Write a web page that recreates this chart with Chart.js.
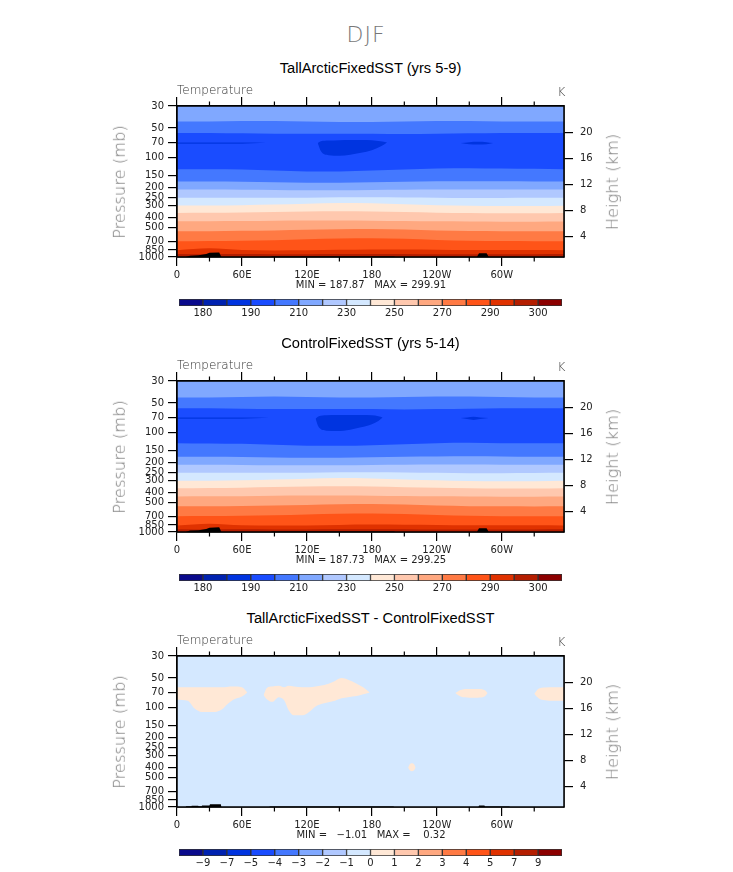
<!DOCTYPE html>
<html><head><meta charset="utf-8">
<script src="https://cdn.jsdelivr.net/npm/chart.js@4.4.1/dist/chart.umd.min.js"></script>
<style>
html,body{margin:0;padding:0;background:#fff;}
body{width:733px;height:872px;position:relative;overflow:hidden;font-family:"DejaVu Sans",sans-serif;}
canvas{position:absolute;}
.t{position:absolute;white-space:pre;transform:translate(-50%,-50%);line-height:1;}
.tl{position:absolute;white-space:pre;transform:translate(0,-50%);line-height:1;}
.main{font-size:22px;font-weight:200;color:#777;letter-spacing:1px}
.ttl{font-family:"Liberation Sans",Arial,sans-serif;font-size:14.7px;color:#000}
.lbl{font-size:12px;font-weight:300;color:#333}
.ax{font-size:16.3px;font-weight:200;color:#777;}
.mm{font-size:10px;color:#222}
</style></head><body>
<script>
// ---------------- data ----------------
const LONS = [0,30,60,90,120,150,180,210,240,270,300,330,357.5];
const LON_TICKS = [0,60,120,180,240,300];
const LON_LABELS = ['0','60E','120E','180','120W','60W'];
const LON_MINOR = [30,90,150,210,270,330];
const P_TICKS = [30,50,70,100,150,200,250,300,400,500,700,850,1000];
const H_TICKS = [4,8,12,16,20];

const COLORS = ['#0a0a8c','#0022b0','#0034e0','#1a4cff','#4478ff','#80a8ff','#b0c8ff','#d4e8ff',
                '#ffe8d6','#ffc8ae','#ffa880','#ff7a44','#ff5418','#e03200','#b41e00','#8c0000'];
const T_LEVELS = [180,185,190,200,210,220,230,240,250,260,270,280,290,295,300];
const T_LABELED = [180,190,210,230,250,270,290,300];
const D_LEVELS = [-9,-7,-5,-4,-3,-2,-1,0,1,2,3,4,5,7,9];
const D_LABELED = [-9,-7,-5,-4,-3,-2,-1,0,1,2,3,4,5,7,9];

// Panel 1: TallArcticFixedSST (yrs 5-9) — contour pressures (mb) along LONS
const A_C210_UP = [43,43,42.5,42.5,43,43.5,43.5,43,42.5,42.5,43,43,43];
const A_C200_UP = [56,56,56.5,57,57,57,57,57.5,57,56.5,56,56,56];
const A_C200_LO = [130,130,131,134,137,137,134,131,128,127,128,129,130];
const A_C210_LO = [173,173,174,176,178,178,176,174,172,172,172,173,173];
const A_C220 = [209,209,210,211,212,212,211,210,209,209,209,209,209];
const A_C230 = [252,252,252,252,252,250,250,251,252,254,254,253,252];
const A_C240 = [303,302,300,296,290,285,287,294,300,304,306,306,304];
const A_C250 = [360,358,356,352,348,346,348,352,357,361,363,363,361];
const A_C260 = [437,436,434,430,428,428,430,433,436,438,440,440,438];
const A_C270 = [550,549,545,540,532,524,522,528,540,548,550,551,550];
const A_C280 = [692,688,684,676,664,652,648,656,672,685,690,692,692];
const A_C290 = [855,818,850,858,855,845,838,840,845,850,852,852,855];
const A_C295 = [935,940,935,940,938,935,932,935,940,940,938,938,935];
const A_COLD_LONS = [130,133,140,150,160,170,180,188,194];
const A_COLD_TOP = [71,68,67,66.5,66,66,66.5,68,70];
const A_COLD_BOT = [71,86,94,95,93,89,84,77,70];
const A_SLIV1_LONS = [0,20,40,60,82];
const A_SLIV1_TOP = [70,70,70,70,70.5];
const A_SLIV1_BOT = [72,72,72,72,70.5];
const A_SLIV2_LONS = [262,270,278,286,292];
const A_SLIV2_TOP = [71,69.5,69,69.5,71];
const A_SLIV2_BOT = [71,73,73.5,73,71];
const A_TOPO_LONS = [0,8,12,20,27,30,39,41,86,88,200,202,277,279,286,288,357.5];
const A_TOPO_PS   = [1000,1000,972,960,935,905,900,1000,1000,988,988,1000,1000,915,915,1000,1000];

// Panel 2: ControlFixedSST (yrs 5-14)
const B_C210_UP = [44,44,43.5,43,43.5,44,44,43.5,43,43,43.5,44,44];
const B_C200_UP = [56.5,56.5,57,57.5,57.5,57.5,57.5,58,57.5,57,56.5,56.5,56.5];
const B_C200_LO = [127,128,129,132,135,135,133,130,127,126,127,127,127];
const B_C210_LO = [174,174,175,177,178,178,176,174,173,172,173,174,174];
const B_C220 = [210,210,211,212,212,212,211,210,209,209,210,210,210];
const B_C230 = [253,253,253,253,252,250,250,251,253,255,255,254,253];
const B_C240 = [305,304,301,296,290,286,288,295,301,306,308,307,305];
const B_C250 = [362,360,357,352,348,346,348,353,358,362,364,364,362];
const B_C260 = [438,437,435,431,428,428,430,434,437,439,441,441,439];
const B_C270 = [551,550,546,541,533,525,523,529,541,549,551,552,551];
const B_C280 = [694,690,686,678,666,654,650,658,674,687,692,694,694];
const B_C290 = [860,825,855,862,858,848,842,845,850,855,856,856,860];
const B_C295 = [940,945,940,945,942,940,936,940,945,945,942,942,940];
const B_COLD_LONS = [128,131,138,148,160,170,180,186,190];
const B_COLD_TOP = [72,68,66.5,66,66,66,66.5,68,70];
const B_COLD_BOT = [72,88,95,96,93,88,82,76,70];
const B_SLIV1_LONS = [0,20,40,60,85];
const B_SLIV1_TOP = [70,70,70,70,70.5];
const B_SLIV1_BOT = [72,72,72,72,70.5];
const B_SLIV2_LONS = [262,268,274,280,288];
const B_SLIV2_TOP = [71,70,69,70,71];
const B_SLIV2_BOT = [71,72.5,74,72.5,71];
const B_TOPO_LONS = [0,8,12,20,27,30,39,41,86,88,200,202,277,279,286,288,357.5];
const B_TOPO_PS   = [1000,1000,968,958,935,905,898,1000,1000,988,988,1000,1000,915,915,1000,1000];

// Panel 3: difference — regions between 0 and 1 K
const D_P1_LONS = [0,10,16,23,35,42,46,52,60,65];
const D_P1_TOP  = [62,62,62,62,62,62,61.5,61,62,70];
const D_P1_BOT  = [83,85,101,110,110,103,93,83,77,70];
const D_P2_LONS = [80,83,88,94,99,103,108,116,122,128,136,144,152,158,166,172,178];
const D_P2_TOP  = [74,63,61,60,62,60,61,62,62,61,59,55,50,52,57,62,70];
const D_P2_BOT  = [74,82,87,78,84,105,119,119,110,97,90,86,80,78,76,73,70];
const D_P3_LONS = [257,262,270,278,284,287];
const D_P3_TOP  = [71,66,64.5,64.5,66,71];
const D_P3_BOT  = [71,77,79,79,77,71];
const D_P4_LONS = [330,334,340,348,357.5];
const D_P4_TOP  = [72,64,62.5,62,62];
const D_P4_BOT  = [72,80,84,85,85];
const D_P5_LONS = [213.5,215,217,219,220.5];
const D_P5_TOP  = [400,370,362,370,400];
const D_P5_BOT  = [400,425,435,425,400];
const D_TOPO_LONS = [0,8,8.5,13,13.5,19.5,20,22.5,23,30,30.5,40.5,41,85,85.5,200,200.5,278.5,279,284,284.5,307,307.5,357.5];
const D_TOPO_PS   = [1000,1000,985,985,972,972,985,985,965,965,940,940,1000,1000,987,987,1000,1000,965,965,988,988,1000,1000];

// ---------------- helpers ----------------
function bandColor(levels, lo){ return COLORS[levels.indexOf(lo)+1]; }
function pts(lons, ps){ return lons.map((x,i)=>({x:x, y:ps[i]})); }
function mk(data, fill, color, smooth){
  return {data, fill, backgroundColor:color, borderColor:'rgba(0,0,0,0)', borderWidth:0,
    pointRadius:0, pointHoverRadius:0, xAxisID:'x', yAxisID:'y',
    tension: smooth ? 0.4 : 0, cubicInterpolationMode: smooth ? 'monotone' : 'default'};
}
function buildDatasets(layers, levels){
  const ds = [];
  layers.forEach(L=>{
    const color = L.black ? '#000' : bandColor(levels, L.band);
    const smooth = !L.black;
    if (L.top){
      const ti = ds.length;
      ds.push(mk(pts(L.lons, L.top), false, color, smooth));
      ds.push(mk(pts(L.lons, L.bot), ti, color, smooth));
    } else {
      ds.push(mk(pts(L.lons, L.ps), 'start', color, smooth));
    }
  });
  const n = ds.length; ds.forEach((d,i)=>{ d.order = n - i; });
  return ds;
}
function tempLayers(c){
  return [
    {lons:LONS, ps:c.c210u, band:200},
    {lons:LONS, ps:c.c200u, band:190},
    {lons:LONS, ps:c.c200l, band:200},
    {lons:LONS, ps:c.c210l, band:210},
    {lons:LONS, ps:c.c220, band:220},
    {lons:LONS, ps:c.c230, band:230},
    {lons:LONS, ps:c.c240, band:240},
    {lons:LONS, ps:c.c250, band:250},
    {lons:LONS, ps:c.c260, band:260},
    {lons:LONS, ps:c.c270, band:270},
    {lons:LONS, ps:c.c280, band:280},
    {lons:LONS, ps:c.c290, band:290},
    {lons:LONS, ps:c.c295, band:295},
    {lons:c.coldLons, top:c.coldTop, bot:c.coldBot, band:185},
    {lons:c.s1Lons, top:c.s1Top, bot:c.s1Bot, band:185},
    {lons:c.s2Lons, top:c.s2Top, bot:c.s2Bot, band:185},
    {lons:c.topoLons, ps:c.topoPs, black:true}
  ];
}

const bgPlugin = {
  id:'bgfill',
  beforeDatasetsDraw(chart, args, opts){
    const a = chart.chartArea, ctx = chart.ctx;
    ctx.save(); ctx.fillStyle = opts.color; ctx.fillRect(a.left, a.top, a.right-a.left, a.bottom-a.top); ctx.restore();
  }
};
const framePlugin = {
  id:'frame',
  afterDatasetsDraw(chart){
    const a = chart.chartArea, ctx = chart.ctx, xs = chart.scales.x;
    ctx.save();
    ctx.strokeStyle = '#000'; ctx.lineWidth = 1.5;
    ctx.strokeRect(a.left, a.top, a.right-a.left, a.bottom-a.top);
    ctx.lineWidth = 1.2;
    ctx.beginPath();
    LON_MINOR.forEach(v=>{
      const px = xs.getPixelForValue(v);
      ctx.moveTo(px, a.bottom); ctx.lineTo(px, a.bottom+4.5);
      ctx.moveTo(px, a.top); ctx.lineTo(px, a.top-4.5);
    });
    ctx.stroke();
    ctx.restore();
  }
};

function addText(cls, txt, x, y, left){
  const d = document.createElement('div');
  d.className = (left ? 'tl ' : 't ') + cls;
  d.textContent = txt; d.style.left = x+'px'; d.style.top = y+'px';
  document.body.appendChild(d); return d;
}

const GRID = {drawOnChartArea:false, drawTicks:true, tickLength:9, color:'#000', lineWidth:1.2};
const BORDER = {display:true, color:'#000', width:1.5};
const TICKFONT = {family:'DejaVu Sans', size:10};

function makePanel(top, layers, bgBand, levels){
  const cv = document.createElement('canvas');
  cv.style.left = '100px'; cv.style.top = (top-20)+'px';
  cv.style.width = '530px'; cv.style.height = '201px';
  cv.width = 530; cv.height = 201;
  document.body.appendChild(cv);
  new Chart(cv, {
    type:'line',
    data:{datasets: buildDatasets(layers, levels)},
    options:{
      responsive:false, animation:false, events:[],
      layout:{padding:0},
      plugins:{legend:{display:false}, tooltip:{enabled:false}, bgfill:{color: bandColor(levels, bgBand)}},
      scales:{
        x:{type:'linear', position:'bottom', min:0, max:357.5,
           afterBuildTicks:s=>{ s.ticks = LON_TICKS.map(v=>({value:v})); },
           afterFit:s=>{ s.height = 30; },
           ticks:{callback:v=>LON_LABELS[LON_TICKS.indexOf(v)], maxRotation:0, autoSkip:false, padding:3, font:TICKFONT, color:'#222'},
           grid:GRID, border:BORDER},
        xt:{type:'linear', position:'top', min:0, max:357.5,
           afterBuildTicks:s=>{ s.ticks = LON_TICKS.map(v=>({value:v})); },
           afterFit:s=>{ s.height = 20; },
           ticks:{display:false}, grid:GRID, border:BORDER},
        y:{type:'logarithmic', position:'left', reverse:true, min:30, max:1000,
           afterBuildTicks:s=>{ s.ticks = P_TICKS.map(v=>({value:v})); },
           afterFit:s=>{ s.width = 77; },
           ticks:{callback:v=>String(v), autoSkip:false, padding:4, font:TICKFONT, color:'#222'},
           grid:GRID, border:BORDER},
        yr:{type:'linear', position:'right', min:0.9, max:24,
           afterBuildTicks:s=>{ s.ticks = H_TICKS.map(v=>({value:v})); },
           afterFit:s=>{ s.width = 66; },
           ticks:{autoSkip:false, padding:7, font:TICKFONT, color:'#222'},
           grid:GRID, border:BORDER}
      }
    },
    plugins:[bgPlugin, framePlugin]
  });
}

function fmt(v){ return v < 0 ? '\u2212' + Math.abs(v) : String(v); }

function makeColorbar(barTop, levels, labeled){
  const cv = document.createElement('canvas');
  cv.style.left = '170px'; cv.style.top = (barTop-3)+'px';
  cv.style.width = '400px'; cv.style.height = '26px';
  cv.width = 400; cv.height = 26;
  document.body.appendChild(cv);
  new Chart(cv, {
    type:'bar',
    data:{labels:[''], datasets: COLORS.map(c=>({data:[1], backgroundColor:c, borderColor:'#333', borderWidth:1,
          borderSkipped:false, barPercentage:1, categoryPercentage:1}))},
    options:{
      indexAxis:'y', responsive:false, animation:false, events:[],
      layout:{padding:{left:9, right:8, top:3, bottom:0}},
      plugins:{legend:{display:false}, tooltip:{enabled:false}},
      scales:{
        x:{type:'linear', stacked:true, min:0, max:COLORS.length,
           afterBuildTicks:s=>{ s.ticks = levels.map((v,i)=>({value:i+1})); },
           afterFit:s=>{ s.height = 16; },
           grid:{display:false, drawTicks:false}, border:{display:false},
           ticks:{autoSkip:false, maxRotation:0, padding:1, font:TICKFONT, color:'#222',
             callback:v=>{ const L = levels[v-1]; return labeled.includes(L) ? fmt(L) : ''; }}},
        y:{stacked:true, display:false}
      }
    }
  });
}

// ---------------- build page ----------------
const PANEL_A = {c210u:A_C210_UP,c200u:A_C200_UP,c200l:A_C200_LO,c210l:A_C210_LO,c220:A_C220,c230:A_C230,c240:A_C240,
  c250:A_C250,c260:A_C260,c270:A_C270,c280:A_C280,c290:A_C290,c295:A_C295,
  coldLons:A_COLD_LONS,coldTop:A_COLD_TOP,coldBot:A_COLD_BOT,s1Lons:A_SLIV1_LONS,s1Top:A_SLIV1_TOP,s1Bot:A_SLIV1_BOT,
  s2Lons:A_SLIV2_LONS,s2Top:A_SLIV2_TOP,s2Bot:A_SLIV2_BOT,topoLons:A_TOPO_LONS,topoPs:A_TOPO_PS};
const PANEL_B = {c210u:B_C210_UP,c200u:B_C200_UP,c200l:B_C200_LO,c210l:B_C210_LO,c220:B_C220,c230:B_C230,c240:B_C240,
  c250:B_C250,c260:B_C260,c270:B_C270,c280:B_C280,c290:B_C290,c295:B_C295,
  coldLons:B_COLD_LONS,coldTop:B_COLD_TOP,coldBot:B_COLD_BOT,s1Lons:B_SLIV1_LONS,s1Top:B_SLIV1_TOP,s1Bot:B_SLIV1_BOT,
  s2Lons:B_SLIV2_LONS,s2Top:B_SLIV2_TOP,s2Bot:B_SLIV2_BOT,topoLons:B_TOPO_LONS,topoPs:B_TOPO_PS};
const DIFF_LAYERS = [
  {lons:D_P1_LONS, top:D_P1_TOP, bot:D_P1_BOT, band:0},
  {lons:D_P2_LONS, top:D_P2_TOP, bot:D_P2_BOT, band:0},
  {lons:D_P3_LONS, top:D_P3_TOP, bot:D_P3_BOT, band:0},
  {lons:D_P4_LONS, top:D_P4_TOP, bot:D_P4_BOT, band:0},
  {lons:D_P5_LONS, top:D_P5_TOP, bot:D_P5_BOT, band:0},
  {lons:D_TOPO_LONS, ps:D_TOPO_PS, black:true}
];

const PANELS = [
  {top:106, title:'TallArcticFixedSST (yrs 5-9)', layers:tempLayers(PANEL_A), bg:210, levels:T_LEVELS, labeled:T_LABELED,
   mm:'MIN = 187.87   MAX = 299.91'},
  {top:381, title:'ControlFixedSST (yrs 5-14)', layers:tempLayers(PANEL_B), bg:210, levels:T_LEVELS, labeled:T_LABELED,
   mm:'MIN = 187.73   MAX = 299.25'},
  {top:656, title:'TallArcticFixedSST - ControlFixedSST', layers:DIFF_LAYERS, bg:-1, levels:D_LEVELS, labeled:D_LABELED,
   mm:'MIN =   \u22121.01   MAX =    0.32'}
];

addText('main', 'DJF', 366, 35);
PANELS.forEach(p=>{
  makePanel(p.top, p.layers, p.bg, p.levels);
  makeColorbar(p.top + 192.5, p.levels, p.labeled);
  addText('ttl', p.title, 370.5, p.top - 38.5);
  addText('lbl', 'Temperature', 177, p.top - 16.5, true);
  addText('lbl', 'K', 561.5, p.top - 14);
  const a = addText('ax', 'Pressure (mb)', 119.5, p.top + 75.5); a.style.transform = 'translate(-50%,-50%) rotate(-90deg)';
  const b = addText('ax', 'Height (km)', 613, p.top + 75.5); b.style.transform = 'translate(-50%,-50%) rotate(-90deg)';
  addText('mm', p.mm, 371, p.top + 179);
});
</script>
</body></html>
